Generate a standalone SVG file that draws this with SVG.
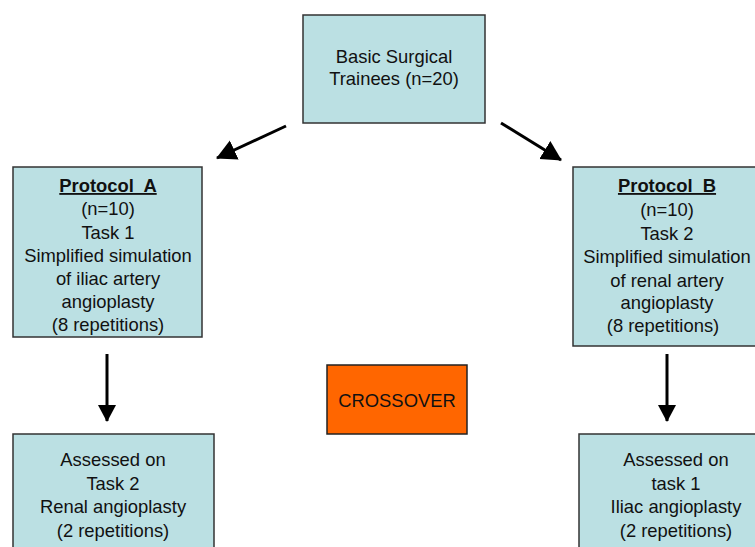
<svg xmlns="http://www.w3.org/2000/svg" width="755" height="547" viewBox="0 0 755 547">
<style>
.box{fill:#BBE0E3;stroke:#333;stroke-width:1.5}
.orange{fill:#FF6600;stroke:#222;stroke-width:1.5}
text{font-family:"Liberation Sans",Arial,sans-serif;font-size:18.4px;fill:#111;text-anchor:middle}
.h{font-weight:bold;text-decoration:underline}
.conn line{stroke:#000;stroke-width:3}
</style>
<defs>
<marker id="ah" markerUnits="userSpaceOnUse" markerWidth="20" markerHeight="20" refX="16" refY="9" orient="auto">
<path d="M0,0 L17,9 L0,18 z" fill="#000"/>
</marker>
<marker id="ahd" markerUnits="userSpaceOnUse" markerWidth="24" markerHeight="24" refX="19" refY="10.5" orient="auto">
<path d="M0,0 L20,10.5 L0,21 z" fill="#000"/>
</marker>
</defs>
<rect width="755" height="547" fill="#fff"/>
<g id="connectors" class="conn">
<line x1="286" y1="126" x2="217" y2="158" marker-end="url(#ahd)"/>
<line x1="501" y1="123" x2="561" y2="160" marker-end="url(#ahd)"/>
<line x1="107" y1="354" x2="107" y2="421" marker-end="url(#ah)"/>
<line x1="667" y1="354" x2="667" y2="421" marker-end="url(#ah)"/>
</g>
<g id="trainees">
<rect class="box" x="303" y="15" width="182" height="108"/>
<text x="394" y="63">Basic Surgical</text>
<text x="394" y="85">Trainees (n=20)</text>
</g>
<g id="protocolA">
<rect class="box" x="13" y="167" width="189" height="170"/>
<text x="108" y="192" class="h">Protocol&#160; A</text>
<text x="108" y="215">(n=10)</text>
<text x="108" y="238.5">Task 1</text>
<text x="108" y="262">Simplified simulation</text>
<text x="108" y="285">of iliac artery</text>
<text x="108" y="308">angioplasty</text>
<text x="108" y="331">(8 repetitions)</text>
</g>
<g id="protocolB">
<rect class="box" x="573" y="167" width="190" height="179"/>
<text x="667" y="192" class="h">Protocol&#160; B</text>
<text x="667" y="216">(n=10)</text>
<text x="667" y="239.5">Task 2</text>
<text x="667" y="263">Simplified simulation</text>
<text x="667" y="286.5">of renal artery</text>
<text x="667" y="309">angioplasty</text>
<text x="663" y="332">(8 repetitions)</text>
</g>
<g id="crossover">
<rect class="orange" x="327" y="365" width="140" height="69"/>
<text x="397" y="407">CROSSOVER</text>
</g>
<g id="assessedA">
<rect class="box" x="13" y="434" width="201" height="130"/>
<text x="113" y="466">Assessed on</text>
<text x="113" y="490">Task 2</text>
<text x="113" y="513">Renal angioplasty</text>
<text x="113" y="537">(2 repetitions)</text>
</g>
<g id="assessedB">
<rect class="box" x="579" y="434" width="200" height="130"/>
<text x="676" y="466">Assessed on</text>
<text x="676" y="490">task 1</text>
<text x="676" y="513">Iliac angioplasty</text>
<text x="676" y="537">(2 repetitions)</text>
</g>
</svg>
